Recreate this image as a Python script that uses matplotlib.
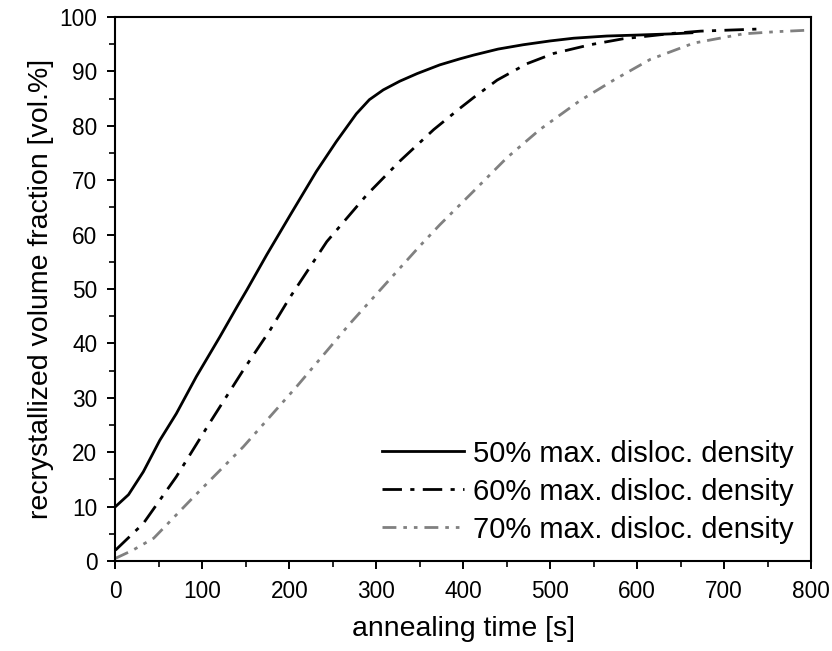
import numpy as np
import matplotlib
import matplotlib.pyplot as plt
from matplotlib.ticker import MultipleLocator

matplotlib.use('agg')

plt.rcParams['font.family'] = ['Liberation Sans', 'DejaVu Sans']

# Recrystallized fraction curves, read as (time [s], fraction [vol.%]).
t_50 = [0, 15, 32, 51, 70, 93, 120, 140, 151, 174, 201, 231, 254, 277, 292,
        308, 327, 347, 373, 396, 412, 440, 469, 500, 527, 565, 604, 640, 663]
f_50 = [10, 12.2, 16.4, 22.2, 27.1, 33.9, 41.2, 46.8, 49.8, 56.3, 63.6, 71.6,
        77.1, 82.2, 84.8, 86.6, 88.2, 89.6, 91.2, 92.3, 93, 94.1, 94.9, 95.6,
        96.1, 96.5, 96.7, 96.9, 97.1]

t_60 = [0, 32, 70, 108, 147, 178, 200, 243, 289, 327, 366, 396, 412, 439, 473,
        504, 546, 584, 642, 673, 742]
f_60 = [2, 6.9, 15.5, 25.3, 35.1, 42.5, 48.3, 58.7, 67.3, 73.5, 79.3, 83.2,
        85.2, 88.4, 91.4, 93.3, 94.9, 96, 97, 97.4, 97.8]

t_70 = [0, 20, 44, 90, 147, 208, 270, 297, 350, 373, 412, 450, 488, 534, 573,
        615, 665, 722, 760, 800]
f_70 = [0.5, 2, 4.2, 11.8, 21, 32, 43.7, 48.5, 57.9, 61.8, 68, 74.1, 79.3,
        84.6, 88.4, 92.2, 95.2, 96.9, 97.3, 97.6]

labels = ['50% max. disloc. density', '60% max. disloc. density',
          '70% max. disloc. density']

fig = plt.figure(figsize=(8.32, 6.51), dpi=100)
ax = fig.add_axes([0.1388, 0.1382, 0.836, 0.8357])

ax.plot(t_50, f_50, color='black', lw=2.0, label=labels[0])
ax.plot(t_60, f_60, color='black', lw=2.0, dashes=(7, 3, 1.5, 3),
        label=labels[1])
ax.plot(t_70, f_70, color='#808080', lw=2.0,
        dashes=(5, 2.5, 1.3, 2.5, 1.3, 2.5), label=labels[2])

ax.set_xlim(0, 800)
ax.set_ylim(0, 100)
ax.xaxis.set_major_locator(MultipleLocator(100))
ax.xaxis.set_minor_locator(MultipleLocator(50))
ax.yaxis.set_major_locator(MultipleLocator(10))
ax.yaxis.set_minor_locator(MultipleLocator(5))
ax.tick_params(which='major', direction='out', length=6, width=1.4,
               labelsize=16.3)
ax.tick_params(which='minor', direction='out', length=4, width=1.2)
ax.tick_params(axis='x', which='major', pad=8)
ax.tick_params(axis='y', which='major', pad=7)
for sp in ax.spines.values():
    sp.set_linewidth(1.5)

ax.set_xlabel('annealing time [s]', fontsize=20.5, labelpad=9)
ax.set_ylabel('recrystallized volume fraction [vol.%]', fontsize=20.5,
              labelpad=4)

ax.legend(loc='lower right', frameon=False, fontsize=21, handlelength=2.8,
          handletextpad=0.3, labelspacing=0.34, borderaxespad=0.2,
          borderpad=0.4)

plt.savefig('out.png', dpi=100)
plt.close()
